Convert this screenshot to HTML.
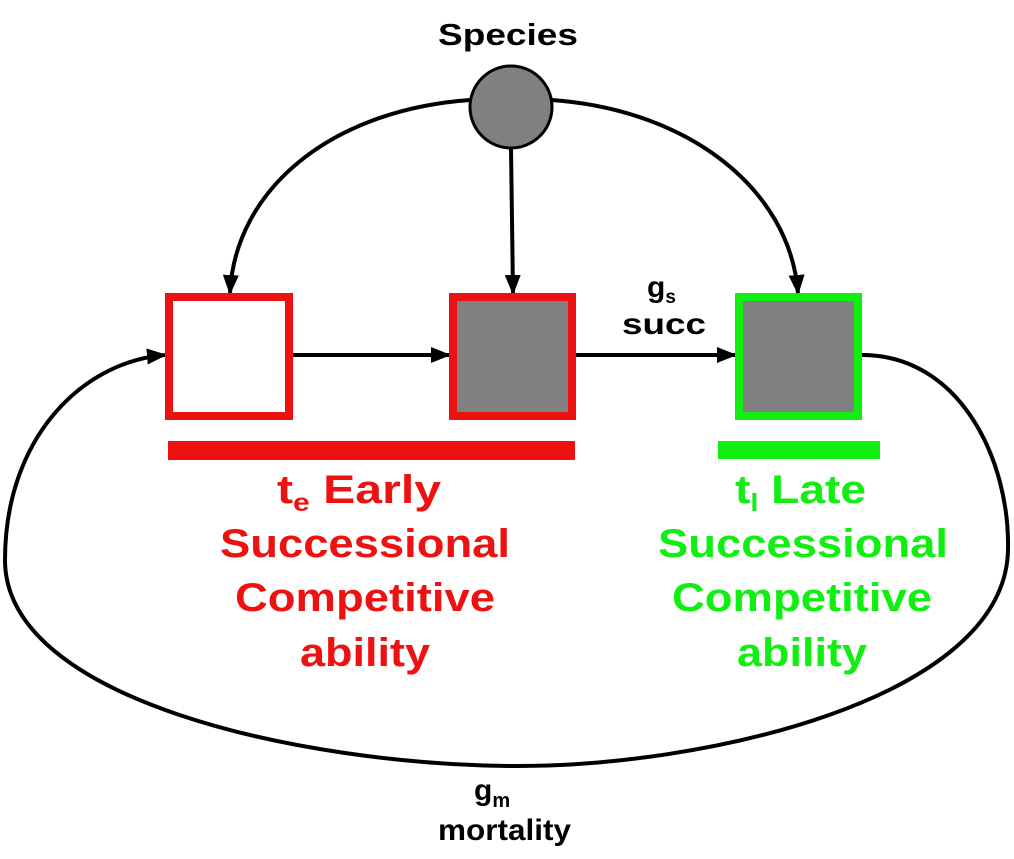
<!DOCTYPE html>
<html><head><meta charset="utf-8"><style>
html,body{margin:0;padding:0;background:#fff;}
svg{display:block;font-family:"Liberation Sans",Arial,sans-serif;font-weight:bold;}
</style></head><body>
<svg width="1014" height="859" viewBox="0 0 1014 859">
<defs>
<marker id="ah" markerWidth="20" markerHeight="16" refX="18" refY="8" orient="auto" markerUnits="userSpaceOnUse" viewBox="0 0 20 16">
<path d="M0,0 L20,8 L0,16 Z" fill="#000"/></marker>
</defs>
<g fill="none" stroke="#000" stroke-width="4">
<path d="M470,100 C330,110 235,190 230,293" marker-end="url(#ah)"/>
<path d="M511,148 L513,293" marker-end="url(#ah)"/>
<path d="M552,100 C690,110 790,190 798,293" marker-end="url(#ah)"/>
<path d="M293,355 L449,355" marker-end="url(#ah)"/>
<path d="M576,355 L735,355" marker-end="url(#ah)"/>
<path d="M862,355 C960,355 1010,460 1008,550 C1005,700 700,768 510,766 C300,764 5,700 5,560 C5,440 80,362 165,355" marker-end="url(#ah)"/>
</g>
<circle cx="511" cy="107" r="41" fill="#808080" stroke="#000" stroke-width="3"/>
<text x="438" y="45" font-size="31" textLength="140" lengthAdjust="spacingAndGlyphs">Species</text>
<rect x="169" y="297" width="120" height="119" fill="#fff" stroke="#ee1111" stroke-width="8"/>
<rect x="453" y="297" width="119" height="119" fill="#808080" stroke="#ee1111" stroke-width="8"/>
<rect x="739" y="297" width="119" height="119" fill="#808080" stroke="#11ee11" stroke-width="8"/>
<rect x="168" y="441" width="407" height="19" fill="#ee1111"/>
<rect x="718" y="441" width="162" height="18" fill="#11ee11"/>
<g font-size="30" fill="#000">
<text x="647" y="297">g<tspan font-size="19" dy="6">s</tspan></text>
<text x="622" y="334" textLength="84" lengthAdjust="spacingAndGlyphs">succ</text>
</g>
<g font-size="40" fill="#ee1111" lengthAdjust="spacingAndGlyphs">
<text x="277" y="503" textLength="164" lengthAdjust="spacingAndGlyphs">t<tspan font-size="25" dy="8">e</tspan><tspan dy="-8"> Early</tspan></text>
<text x="220" y="557" textLength="290" lengthAdjust="spacingAndGlyphs">Successional</text>
<text x="235" y="611" textLength="260" lengthAdjust="spacingAndGlyphs">Competitive</text>
<text x="300" y="666" textLength="130" lengthAdjust="spacingAndGlyphs">ability</text>
</g>
<g font-size="40" fill="#11ee11">
<text x="735" y="503" textLength="131" lengthAdjust="spacingAndGlyphs">t<tspan font-size="25" dy="8">l</tspan><tspan dy="-8"> Late</tspan></text>
<text x="658" y="557" textLength="290" lengthAdjust="spacingAndGlyphs">Successional</text>
<text x="672" y="611" textLength="260" lengthAdjust="spacingAndGlyphs">Competitive</text>
<text x="737" y="666" textLength="130" lengthAdjust="spacingAndGlyphs">ability</text>
</g>
<g font-size="30" fill="#000">
<text x="474" y="800">g<tspan font-size="20" dy="7">m</tspan></text>
<text x="438" y="840" textLength="133" lengthAdjust="spacingAndGlyphs">mortality</text>
</g>
</svg>
</body></html>
